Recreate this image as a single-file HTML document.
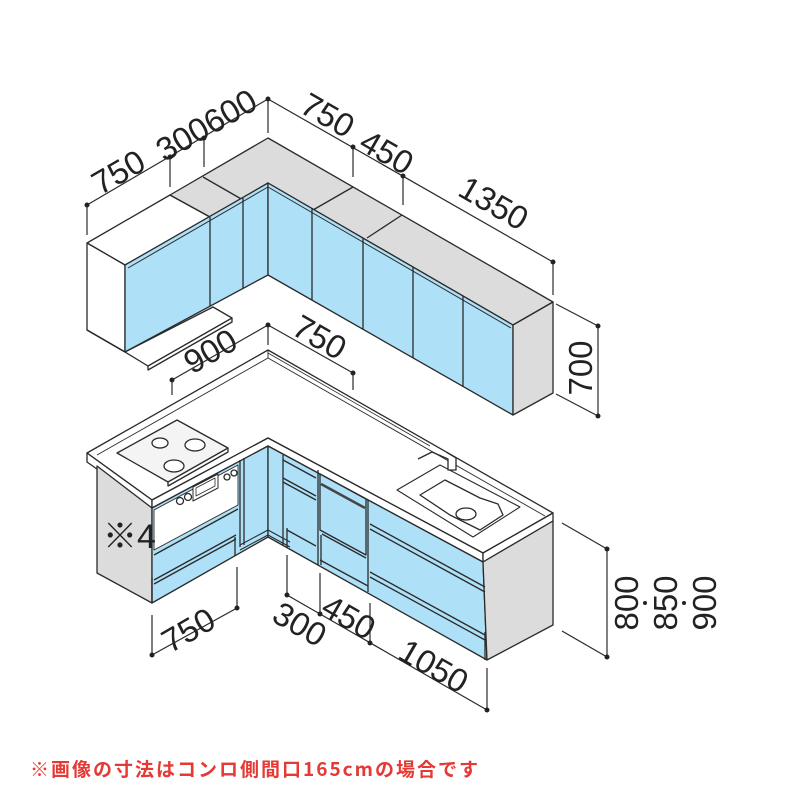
<!DOCTYPE html>
<html><head><meta charset="utf-8"><style>
html,body{margin:0;padding:0;background:#fff;}
svg{display:block}
text{font-family:"Liberation Sans","DejaVu Sans",sans-serif;fill:#222}
</style></head><body>
<svg width="800" height="800" viewBox="0 0 800 800" xmlns="http://www.w3.org/2000/svg">
<g stroke="#2a2a2a" stroke-width="1.3" stroke-linejoin="round" fill="none">
<!-- ===== Upper cabinets ===== -->
<polygon points="87,243 170,195 210,217 125,265" fill="#fff"/>
<polygon points="170,195 268,138 553,302 513,325 268,183 210,217" fill="#dcdcdc"/>
<line x1="203" y1="177" x2="243" y2="200"/>
<line x1="353" y1="187" x2="313" y2="210"/>
<line x1="402" y1="215" x2="367" y2="238"/>
<polygon points="87,243 125,265 125,352 87,330" fill="#fff"/>
<polygon points="125,265 268,183 268,275 125,352" fill="#aee0f7"/>
<polygon points="268,183 513,325 513,415 268,275" fill="#aee0f7"/>
<polygon points="513,325 553,302 553,393 513,415" fill="#dcdcdc"/>
<polyline points="128,268 268,187 511,328" stroke-width="1"/>
<line x1="210" y1="217" x2="210" y2="306"/>
<line x1="243" y1="198" x2="243" y2="289"/>
<line x1="312" y1="208" x2="312" y2="300"/>
<line x1="363" y1="238" x2="363" y2="329"/>
<line x1="413" y1="267" x2="413" y2="358"/>
<line x1="463" y1="296" x2="463" y2="387"/>
<polygon points="125,352 148,366 232,318 213,307" fill="#fff"/>
<polyline points="148,366 148,370 232,322 232,318"/>
<line x1="87" y1="330" x2="125" y2="352"/>

<!-- ===== Lower cabinets ===== -->
<polygon points="87,453 268,350 553,513 483,553 268,438 152,500" fill="#fff"/>
<polyline points="97,455 268,358 545,516" stroke-width="0.9"/>
<polyline points="268,350 268,358" stroke-width="0.9"/>
<polygon points="87,453 152,500 152,508 87,462" fill="#fff"/>
<polygon points="152,500 268,438 483,553 483,562 268,446 152,508" fill="#fff"/>
<polygon points="483,553 553,513 553,521 483,562" fill="#fff"/>
<polygon points="97,466 152,508 152,603 97,573" fill="#dcdcdc"/>
<polygon points="152,508 268,446 268,537 152,603" fill="#aee0f7"/>
<polygon points="268,446 483,562 487,660 268,537" fill="#aee0f7"/>
<polygon points="483,562 553,521 553,625 487,660" fill="#dcdcdc"/>
<!-- appliance panel -->
<polygon points="154,510 238,465 238,505 154,550" fill="#fff" stroke-width="0.9"/>
<polygon points="193,487 218,474 218,488 193,501" fill="#fff" stroke-width="1"/>
<polygon points="196,488 215,478 215,486 196,496" fill="#fff" stroke-width="0.8"/>
<circle cx="180" cy="501" r="3.5" fill="#fff"/><circle cx="188" cy="497" r="3.5" fill="#fff"/>
<circle cx="227" cy="477" r="3" fill="#fff"/><circle cx="234" cy="473" r="3" fill="#fff"/>
<line x1="240" y1="460" x2="240" y2="547"/>
<line x1="244" y1="458" x2="244" y2="545"/>
<polyline points="154,555 238,509"/>
<polyline points="154,580 236,535"/>
<polyline points="154,584 236,539"/>
<line x1="235" y1="537" x2="235" y2="556"/>
<polyline points="240,545 268,530 290,542" stroke-width="1"/>
<polyline points="240,550 268,535 290,547" stroke-width="1"/>
<line x1="283" y1="455" x2="283" y2="545"/>
<polyline points="283,460 316,478"/><polyline points="283,478 316,496"/><polyline points="283,482 316,500"/>
<polyline points="287,530 316,546"/>
<line x1="287" y1="528" x2="287" y2="548"/>
<line x1="318" y1="470" x2="318" y2="565"/>
<polygon points="320,474 366,499 366,555 320,530" fill="#aee0f7"/>
<polyline points="321,484 365,508" stroke-width="2.5" stroke="#444"/>
<polyline points="322,534 366,558"/>
<line x1="321" y1="535" x2="321" y2="565"/>
<line x1="368" y1="500" x2="368" y2="592"/>
<polyline points="370,524 485,587"/><polyline points="370,529 485,592"/>
<polyline points="370,572 485,635"/><polyline points="370,577 485,640"/>
<polyline points="320,560 368,586"/>
<line x1="485" y1="632" x2="485" y2="660"/>
<line x1="152" y1="578" x2="152" y2="603"/>
<!-- cooktop -->
<polygon points="117,453 177,420 228,448 168,482" fill="#f4f4f4"/>
<polyline points="168,482 168,486 228,452 228,448"/>
<ellipse cx="160" cy="443" rx="8" ry="5" fill="#fff"/>
<ellipse cx="195" cy="445" rx="10" ry="6" fill="#fff"/>
<ellipse cx="174" cy="466" rx="10" ry="6" fill="#fff"/>
<!-- sink -->
<polygon points="397,490 440,465 520,507 473,537" fill="#fff" stroke-width="1.1"/>
<path d="M420,495 L445,480 L480,498 L498,504 L503,515 L480,530 L450,515 Z" fill="#fff"/>
<ellipse cx="466" cy="514" rx="10" ry="6" fill="#fff"/>
<path d="M418,459 L432,452 L448,459 L448,470 L456,470 L456,458 L446,452" fill="#fff"/>
<polyline points="268,353 430,446" stroke-width="0.8"/>

<!-- ===== Dimension lines ===== -->
<g stroke-width="1.2">
<polyline points="87,205 268,99 553,262"/>
<line x1="87" y1="205" x2="87" y2="235"/>
<line x1="170" y1="157" x2="170" y2="187"/>
<line x1="204" y1="138" x2="204" y2="167"/>
<line x1="268" y1="99" x2="268" y2="133"/>
<line x1="353" y1="147" x2="353" y2="177"/>
<line x1="403" y1="176" x2="403" y2="205"/>
<line x1="553" y1="262" x2="553" y2="295"/>
<line x1="556" y1="304" x2="598" y2="326"/>
<line x1="556" y1="394" x2="598" y2="416"/>
<line x1="598" y1="326" x2="598" y2="416"/>
<line x1="562" y1="523" x2="607" y2="549"/>
<line x1="562" y1="631" x2="607" y2="657"/>
<line x1="607" y1="549" x2="607" y2="657"/>
<polyline points="172,380 268,325 353,373"/>
<line x1="172" y1="380" x2="172" y2="395"/>
<line x1="268" y1="325" x2="268" y2="345"/>
<line x1="353" y1="373" x2="353" y2="390"/>
<line x1="152" y1="615" x2="152" y2="655"/><line x1="152" y1="655" x2="237" y2="608"/><line x1="237" y1="608" x2="237" y2="567"/>
<polyline points="287,555 287,595 487,710"/>
<line x1="320" y1="573" x2="320" y2="614"/>
<line x1="370" y1="603" x2="370" y2="643"/>
<line x1="487" y1="668" x2="487" y2="710"/>
</g>
</g>
<g fill="#222">
<circle cx="87" cy="205" r="2.5"/><circle cx="170" cy="157" r="2.5"/><circle cx="204" cy="138" r="2.5"/><circle cx="268" cy="99" r="2.5"/>
<circle cx="353" cy="147" r="2.5"/><circle cx="403" cy="176" r="2.5"/><circle cx="553" cy="262" r="2.5"/>
<circle cx="598" cy="326" r="2.5"/><circle cx="598" cy="416" r="2.5"/><circle cx="607" cy="549" r="2.5"/><circle cx="607" cy="657" r="2.5"/>
<circle cx="172" cy="380" r="2.5"/><circle cx="268" cy="325" r="2.5"/><circle cx="353" cy="373" r="2.5"/>
<circle cx="152" cy="655" r="2.5"/><circle cx="237" cy="608" r="2.5"/>
<circle cx="287" cy="595" r="2.5"/><circle cx="320" cy="614" r="2.5"/><circle cx="370" cy="643" r="2.5"/><circle cx="487" cy="710" r="2.5"/>
</g>
<g font-size="33" text-anchor="middle">
<text transform="translate(124,182) rotate(-30)">750</text>
<text transform="translate(212,135) rotate(-30)">300600</text>
<text transform="translate(322,125) rotate(30)">750</text>
<text transform="translate(381,162) rotate(30)">450</text>
<text transform="translate(488,213) rotate(30)">1350</text>
<text transform="translate(592,368) rotate(-90)">700</text>
<text transform="translate(216,361) rotate(-30)">900</text>
<text transform="translate(314,347) rotate(30)">750</text>
<text transform="translate(194,640) rotate(-30)">750</text>
<text transform="translate(294,634) rotate(30)">300</text>
<text transform="translate(343,627) rotate(30)">450</text>
<text transform="translate(428,676) rotate(30)">1050</text>
<text transform="translate(638,603) rotate(-90)">800</text>
<text transform="translate(677,603) rotate(-90)">850</text>
<text transform="translate(716,603) rotate(-90)">900</text>
</g>
<circle cx="645" cy="603" r="2" fill="#222"/><circle cx="684" cy="603" r="2" fill="#222"/>
<text x="103" y="548" font-size="34" fill="#222" style="font-family:'Liberation Sans','Noto Sans CJK JP',sans-serif">※4</text>
<text x="30" y="776" font-size="19" font-weight="bold" style="fill:#e53935;font-family:'Noto Sans CJK JP',sans-serif" textLength="448">※画像の寸法はコンロ側間口165cmの場合です</text>
</svg>
</body></html>
